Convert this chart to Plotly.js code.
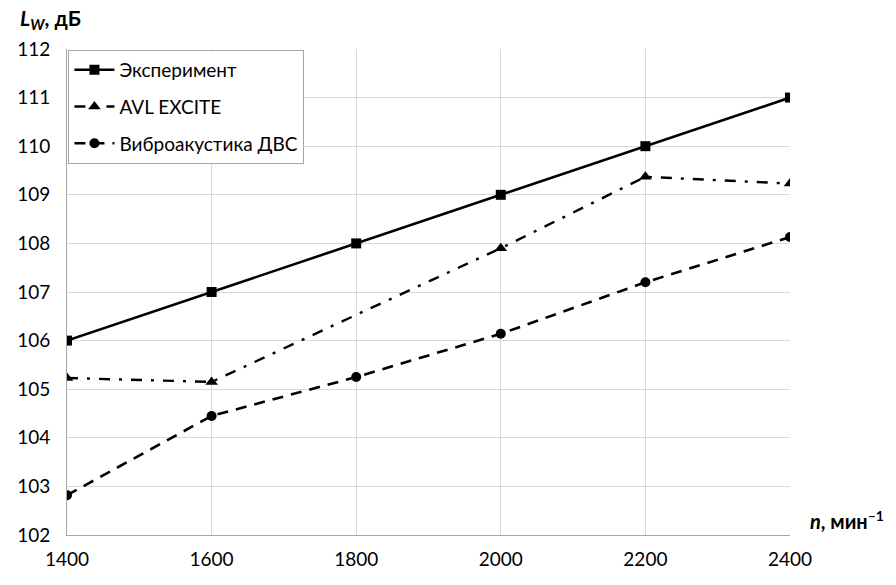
<!DOCTYPE html>
<html>
<head>
<meta charset="utf-8">
<script src="https://cdn.plot.ly/plotly-3.0.1.min.js"></script>
<style>
  body { margin: 0; background: #fff; }
  #chart { width: 896px; height: 585px; }
</style>
</head>
<body>
<div id="chart"></div>
<script>
// частота вращения, мин^-1
var rpm = [1400, 1600, 1800, 2000, 2200, 2400];

// уровни звуковой мощности, дБ
var experiment = [106, 107, 108, 109, 110, 111];
var avlExcite = [105.23, 105.15, 106.53, 107.9, 109.37, 109.23];
var vibroDvs = [102.82, 104.45, 105.25, 106.14, 107.2, 108.13];

var seriesNames = ['Эксперимент', 'AVL EXCITE', 'Виброакустика ДВС'];
var yTicks = [102, 103, 104, 105, 106, 107, 108, 109, 110, 111, 112];

var font = 'Lato, "Open Sans", sans-serif';

// на 1800 у AVL EXCITE маркер не показан
var avlMarkerColor = ['#000', '#000', 'rgba(0,0,0,0)', '#000', '#000', '#000'];

var traces = [
  {
    x: rpm, y: experiment, name: seriesNames[0], legendgroup: 'a',
    mode: 'lines+markers',
    line: { color: '#000', width: 2.6 },
    marker: { symbol: 'square', size: 10, color: '#000' }
  },
  {
    x: rpm, y: avlExcite, name: seriesNames[1], legendgroup: 'b',
    mode: 'lines+markers',
    line: { color: '#000', width: 2.4, dash: '11px,9px,3px,9px' },
    marker: { symbol: 'triangle-up', size: 11, color: avlMarkerColor,
              line: { width: 0 } }
  },
  {
    x: rpm, y: vibroDvs, name: seriesNames[2], legendgroup: 'c',
    mode: 'lines+markers',
    line: { color: '#000', width: 2.6, dash: '11px,8px' },
    marker: { symbol: 'circle', size: 10, color: '#000' }
  }
];

var layout = {
  width: 896, height: 585,
  margin: { l: 67, r: 106, t: 49, b: 50 },
  paper_bgcolor: '#fff', plot_bgcolor: '#fff',
  font: { family: font, size: 19, color: '#000' },
  showlegend: true,
  legend: {
    x: 0.002, y: 0.998, xanchor: 'left', yanchor: 'top',
    bgcolor: '#fff', bordercolor: '#a6a6a6', borderwidth: 1,
    font: { family: font, size: 19, color: '#000' },
    tracegroupgap: 9, itemwidth: 40
  },
  xaxis: {
    range: [1400, 2400], tickvals: rpm,
    showgrid: true, gridcolor: '#d9d9d9', gridwidth: 1,
    showline: true, linecolor: '#a6a6a6', linewidth: 1,
    zeroline: false,
    ticks: 'outside', ticklen: 7, tickcolor: 'rgba(0,0,0,0)',
    tickfont: { family: font, size: 19 }
  },
  yaxis: {
    range: [102, 112], tickvals: yTicks,
    showgrid: true, gridcolor: '#d9d9d9', gridwidth: 1,
    showline: true, linecolor: '#a6a6a6', linewidth: 1,
    zeroline: false,
    ticks: 'outside', ticklen: 12, tickcolor: 'rgba(0,0,0,0)',
    tickfont: { family: font, size: 19 }
  },
  annotations: [
    {
      xref: 'paper', yref: 'paper', x: -0.068, y: 1.062,
      xanchor: 'left', yanchor: 'middle', showarrow: false,
      text: '<b><i>L<sub>W</sub></i>, дБ</b>',
      font: { family: font, size: 21 }
    },
    {
      xref: 'paper', yref: 'paper', x: 1.025, y: 0.03,
      xanchor: 'left', yanchor: 'middle', showarrow: false,
      text: '<b><i>n</i>, мин<sup>–1</sup></b>',
      font: { family: font, size: 20 }
    }
  ]
};

Plotly.newPlot('chart', traces, layout, { displayModeBar: false, staticPlot: true });
</script>
</body>
</html>
